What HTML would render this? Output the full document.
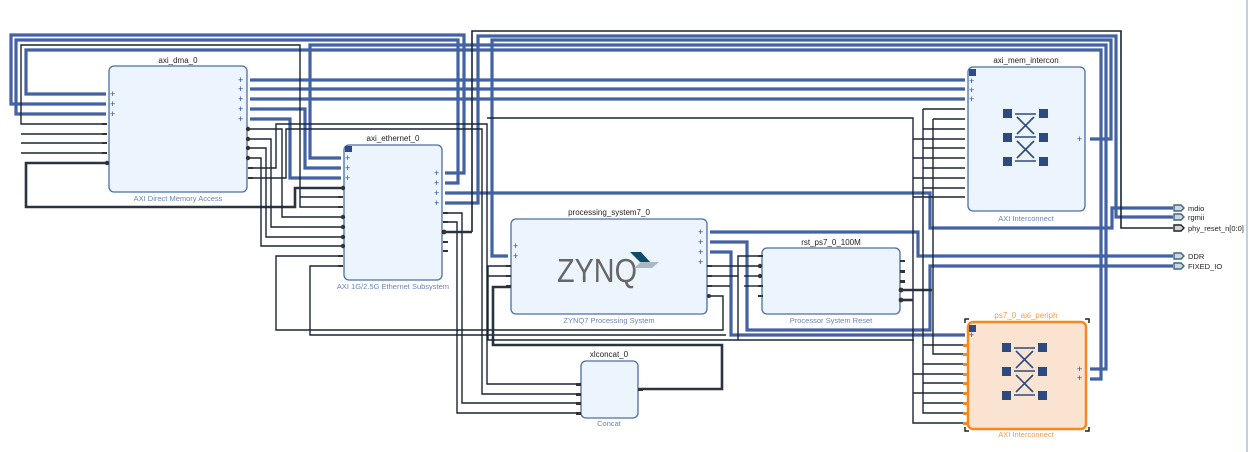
<!DOCTYPE html>
<html><head><meta charset="utf-8"><style>
html,body{margin:0;padding:0;background:#fff;width:1249px;height:452px;overflow:hidden}
svg{display:block}
.b{fill:none;stroke:#4262a3;stroke-width:3.2}
.d{fill:none;stroke:#1a2535;stroke-width:1.4}
.k{fill:none;stroke:#2a3340;stroke-width:2.6}
.kk{fill:none;stroke:#9aa3ad;stroke-width:1}
.blk{fill:#ecf4fd;stroke:#4a6ea9;stroke-width:1.3}
text{font-family:"Liberation Sans",sans-serif}
.t{font-size:8px;fill:#222}
.s{font-size:7.5px;fill:#6a84b8}
.p{font-size:9px;fill:#2d4a8a}
</style></head><body>
<svg width="1249" height="452" viewBox="0 0 1249 452" xmlns="http://www.w3.org/2000/svg">
<line x1="1247" y1="0" x2="1247" y2="452" stroke="#8aa0c0" stroke-width="1"/>

<!-- blue interface wires -->
<polyline class="b" points="445,173 464,173 464,35 11,35 11,104 106,104"/>
<polyline class="b" points="445,183 458,183 458,40 16,40 16,114 106,114"/>
<polyline class="b" points="106,94 26,94 26,50 1101,50 1101,379 1090,379"/>
<polyline class="b" points="341,158 310,158 310,45 1106,45 1106,369 1090,369"/>
<polyline class="b" points="250,80 965,80"/>
<polyline class="b" points="250,89 965,89"/>
<polyline class="b" points="250,99 965,99"/>
<polyline class="b" points="250,109 305,109 305,168 341,168"/>
<polyline class="b" points="250,119 290,119 290,178 341,178"/>
<polyline class="b" points="445,203 478,203 478,36 1116,36 1116,217 1173,217"/>
<polyline class="b" points="508,256 492,256 492,40 1111,40 1111,139 1090,139"/>
<polyline class="b" points="445,193 930,193 930,228 1112,228 1112,208 1173,208"/>
<polyline class="b" points="710,232 918,232 918,256 1173,256"/>
<polyline class="b" points="710,242 747,242 747,330 930,330 930,266 1173,266"/>
<polyline class="b" points="710,252 731,252 731,335 965,335"/>
<polyline class="d" points="472,232 472,31 1121,31 1121,228 1173,228" style="stroke-width:1.6"/>

<!-- dark wires -->
<polyline class="d" points="106,124 21,124 21,45 300,45 300,207 341,207"/>
<polyline class="d" points="106,134 21,134"/><polyline class="d" points="106,143 21,143"/><polyline class="d" points="106,153 21,153"/>
<polyline class="k" points="106,163 26,163 26,207 295,207 295,188 341,188"/>
<polyline class="d" points="250,129 282,129 282,217 341,217"/>
<polyline class="d" points="250,139 271,139 271,227 341,227"/>
<polyline class="d" points="250,148 266,148 266,237 341,237"/>
<polyline class="d" points="250,158 261,158 261,246 341,246"/>
<polyline class="d" points="250,168 276,168 276,124 487,124 487,384 580,384"/>
<polyline class="d" points="250,178 286,178 286,129 482,129 482,394 580,394"/>
<polyline class="d" points="300,197 341,197"/>
<polyline class="d" points="341,256 276,256 276,330 723,330 723,296 710,296"/>
<polyline class="d" points="341,266 310,266 310,335 726,335"/>
<polyline class="d" points="445,213 462,213 462,403 580,403"/>
<polyline class="d" points="445,222 457,222 457,413 580,413"/>
<polyline class="k" points="445,232 472,232"/>
<polyline class="k" points="510,287 493,287 493,345 722,345 722,389 638,389"/>
<polyline class="d" points="510,266 488,266 488,340 914,340"/>
<polyline class="d" points="510,276 488,276"/>
<polyline class="d" points="710,276 738,276 738,340"/>
<polyline class="d" points="710,286 730,286"/>
<polyline class="d" points="710,266 760,266"/>
<polyline class="d" points="760,256 738,256 738,276"/>
<polyline class="d" points="760,276 744,276"/><polyline class="d" points="760,286 744,286"/>
<polyline class="d" points="487,118 913,118 913,423 965,423"/>
<polyline class="k" points="900,290 932,290"/>
<polyline class="k" points="900,300 913,300"/>
<polyline class="d" points="923,109 923,413 965,413"/>
<polyline class="d" points="933,119 933,354 965,354"/>
<g class="d">
<polyline points="923,109 965,109"/><polyline points="933,119 965,119"/><polyline points="923,129 965,129"/>
<polyline points="913,139 965,139"/><polyline points="923,148 965,148"/><polyline points="913,158 965,158"/>
<polyline points="923,168 965,168"/><polyline points="913,178 965,178"/><polyline points="923,188 965,188"/>
<polyline points="913,197 965,197"/>
<polyline points="923,345 965,345"/><polyline points="923,364 965,364"/><polyline points="913,374 965,374"/>
<polyline points="923,383 965,383"/><polyline points="913,393 965,393"/><polyline points="923,403 965,403"/>
</g>

<!-- blocks -->
<rect class="blk" x="109" y="66" width="138" height="126" rx="5"/>
<text class="t" x="178" y="63" text-anchor="middle">axi_dma_0</text>
<text class="s" x="178" y="201" text-anchor="middle">AXI Direct Memory Access</text>

<rect class="blk" x="344" y="145" width="98" height="135" rx="5"/>
<rect x="345" y="146" width="7" height="6" fill="#2d4a8a"/>
<text class="t" x="393" y="141" text-anchor="middle">axi_ethernet_0</text>
<text class="s" x="393" y="289" text-anchor="middle">AXI 1G/2.5G Ethernet Subsystem</text>

<rect class="blk" x="511" y="219" width="196" height="95" rx="5"/>
<text class="t" x="609" y="215" text-anchor="middle">processing_system7_0</text>
<text class="s" x="609" y="323" text-anchor="middle">ZYNQ7 Processing System</text>
<text x="557" y="282" font-size="33" fill="#666" style="font-family:'Liberation Sans',sans-serif" textLength="80" lengthAdjust="spacingAndGlyphs">ZYNQ</text>
<polygon points="630,252 641,252 650,262 640,262" fill="#0f4c6a"/>
<polygon points="641,262 659,262 652,268 634,268" fill="#a9b8c4"/>

<rect class="blk" x="762" y="248" width="138" height="66" rx="5"/>
<text class="t" x="831" y="245" text-anchor="middle">rst_ps7_0_100M</text>
<text class="s" x="831" y="323" text-anchor="middle">Processor System Reset</text>

<rect class="blk" x="581" y="361" width="57" height="57" rx="5"/>
<text class="t" x="609" y="357" text-anchor="middle">xlconcat_0</text>
<text class="s" x="609" y="426" text-anchor="middle">Concat</text>

<rect class="blk" x="968" y="67" width="117" height="144" rx="5"/>
<rect x="969" y="69" width="7" height="7" fill="#2d4a8a"/>
<text class="t" x="1026" y="63" text-anchor="middle">axi_mem_intercon</text>
<text class="s" x="1026" y="221" text-anchor="middle">AXI Interconnect</text>

<rect x="968" y="322" width="118" height="107" rx="5" fill="#fbe3d2" stroke="#f7871f" stroke-width="2.5"/>
<rect x="969" y="325" width="7" height="7" fill="#2d4a8a"/>
<text x="1026" y="318" font-size="8" fill="#f39a4a" text-anchor="middle">ps7_0_axi_periph</text>
<text x="1026" y="437" font-size="7.5" fill="#f39a4a" text-anchor="middle">AXI Interconnect</text>
<g fill="none" stroke="#222" stroke-width="1.5">
<polyline points="965,323 965,319 969,319"/><polyline points="1085,319 1089,319 1089,323"/>
<polyline points="965,427 965,431 969,431"/><polyline points="1085,431 1089,431 1089,427"/>
</g>

<!-- crossbar icons -->
<g id="xb" fill="#2d4a80">
<rect x="1003" y="109" width="9" height="9"/><rect x="1039" y="109" width="9" height="9"/>
<rect x="1003" y="133" width="9" height="9"/><rect x="1039" y="133" width="9" height="9"/>
<rect x="1003" y="157" width="9" height="9"/><rect x="1039" y="157" width="9" height="9"/>
<g stroke="#2d4a80" stroke-width="1.6"><line x1="1015" y1="114" x2="1036" y2="114"/><line x1="1015" y1="137" x2="1036" y2="137"/><line x1="1015" y1="161" x2="1036" y2="161"/>
<line x1="1017" y1="117" x2="1034" y2="134"/><line x1="1034" y1="117" x2="1017" y2="134"/>
<line x1="1017" y1="141" x2="1034" y2="158"/><line x1="1034" y1="141" x2="1017" y2="158"/></g>
</g>
<use href="#xb" x="-1" y="234"/>

<!-- ports -->
<g fill="#333">
<rect x="102" y="123" width="5" height="2"/><rect x="102" y="133" width="5" height="2"/><rect x="102" y="142" width="5" height="2"/><rect x="102" y="152" width="5" height="2"/>
<circle cx="107" cy="163" r="2.2"/>
<circle cx="248" cy="129" r="2.2"/><circle cx="248" cy="139" r="2.2"/><circle cx="248" cy="148" r="2.2"/><circle cx="248" cy="158" r="2.2"/>
<rect x="248" y="167" width="5" height="2"/><rect x="248" y="177" width="5" height="2"/>
<circle cx="343" cy="188" r="2.2"/><rect x="338" y="196" width="5" height="2"/><rect x="338" y="206" width="5" height="2"/>
<circle cx="343" cy="217" r="2.2"/><circle cx="343" cy="227" r="2.2"/><circle cx="343" cy="237" r="2.2"/><circle cx="343" cy="246" r="2.2"/>
<rect x="338" y="255" width="5" height="2"/><rect x="338" y="265" width="5" height="2"/>
<rect x="443" y="212" width="5" height="2"/><rect x="443" y="221" width="5" height="2"/><circle cx="444" cy="232" r="2.4"/>
<rect x="443" y="241" width="5" height="2"/><rect x="443" y="250" width="5" height="2"/>
<rect x="506" y="265" width="5" height="2"/><rect x="506" y="275" width="5" height="2"/><rect x="506" y="285" width="5" height="3"/>
<rect x="707" y="265" width="5" height="2"/><rect x="707" y="275" width="5" height="2"/><rect x="707" y="285" width="5" height="2"/><circle cx="709" cy="296" r="2"/>
<rect x="758" y="255" width="5" height="2"/><circle cx="760" cy="266" r="2.2"/><circle cx="760" cy="276" r="2.2"/><rect x="758" y="285" width="5" height="2"/><rect x="758" y="295" width="5" height="2"/>
<rect x="900" y="260" width="5" height="2"/><rect x="900" y="270" width="5" height="3"/><rect x="900" y="280" width="5" height="3"/>
<circle cx="901" cy="290" r="2.4"/><circle cx="901" cy="300" r="2.4"/>
<rect x="576" y="383" width="5" height="3"/><rect x="576" y="393" width="5" height="3"/><rect x="576" y="402" width="5" height="3"/><rect x="576" y="412" width="5" height="3"/>
<rect x="638" y="388" width="5" height="3"/>
</g>
<g fill="#f7871f">
<rect x="963" y="344" width="5" height="3"/><rect x="963" y="353" width="5" height="3"/><rect x="963" y="363" width="5" height="3"/><rect x="963" y="373" width="5" height="3"/>
<rect x="963" y="382" width="5" height="3"/><rect x="963" y="392" width="5" height="3"/><rect x="963" y="402" width="5" height="3"/><rect x="963" y="412" width="5" height="3"/><rect x="963" y="422" width="5" height="3"/>
</g>
<g class="p">
<text x="110" y="97">+</text><text x="110" y="107">+</text><text x="110" y="117">+</text>
<text x="238" y="83">+</text><text x="238" y="92">+</text><text x="238" y="102">+</text><text x="238" y="112">+</text><text x="238" y="122">+</text>
<text x="345" y="161">+</text><text x="345" y="171">+</text><text x="345" y="181">+</text>
<text x="434" y="176">+</text><text x="434" y="186">+</text><text x="434" y="196">+</text><text x="434" y="206">+</text>
<text x="513" y="249">+</text><text x="513" y="259">+</text>
<text x="698" y="235">+</text><text x="698" y="245">+</text><text x="698" y="255">+</text><text x="698" y="265">+</text>
<text x="969" y="84">+</text><text x="969" y="93">+</text><text x="969" y="102">+</text><text x="1077" y="142">+</text>
<text x="969" y="338">+</text><text x="1077" y="372">+</text><text x="1077" y="381">+</text>
</g>
<g fill="#cfd6dc" stroke="#3a6a80" stroke-width="1.4">
<polygon points="1174,205 1181,205 1184,208 1181,211 1174,211"/>
<polygon points="1174,214 1181,214 1184,217 1181,220 1174,220"/>
<polygon points="1174,253 1181,253 1184,256 1181,259 1174,259"/>
<polygon points="1174,263 1181,263 1184,266 1181,269 1174,269"/>
</g>
<polygon points="1174,225 1181,225 1184,228 1181,231 1174,231" fill="#cfd6dc" stroke="#222" stroke-width="1.4"/>
<g class="t" style="font-size:7.5px">
<text x="1188" y="211">mdio</text><text x="1188" y="220">rgmii</text><text x="1188" y="231">phy_reset_n[0:0]</text>
<text x="1188" y="259">DDR</text><text x="1188" y="269">FIXED_IO</text>
</g>
</svg>
</body></html>
